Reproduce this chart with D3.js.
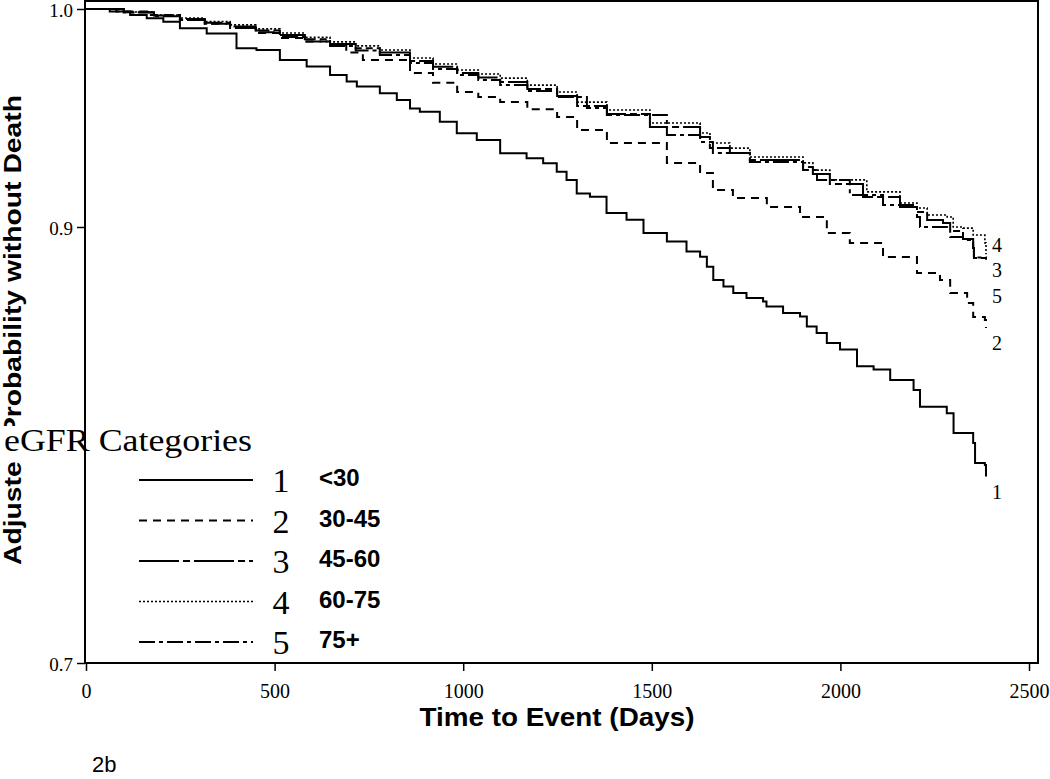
<!DOCTYPE html>
<html>
<head>
<meta charset="utf-8">
<script src="https://cdn.jsdelivr.net/npm/d3@7"></script>
<style>
  html, body { margin: 0; padding: 0; background: #fff; }
  svg { display: block; }
</style>
</head>
<body>
<svg id="chart" width="1050" height="779"></svg>
<script>
// ---------------- data ----------------
const xTicks = [0, 500, 1000, 1500, 2000, 2500];
const yTicks = [0.7, 0.8, 0.9, 1.0];

const days1 = [0,63,117,161,205,249,320,399,452,514,585,647,691,718,779,824,859,885,938,983,1036,1098,1168,1212,1248,1274,1301,1336,1380,1433,1478,1540,1592,1628,1646,1663,1690,1716,1751,1795,1804,1848,1893,1911,1937,1964,1999,2044,2088,2132,2194,2211,2282,2300,2352,2357,2383,2386];
const surv1 = [1.0,0.9988,0.9972,0.9958,0.9942,0.9912,0.9888,0.9820,0.9812,0.9766,0.9736,0.9697,0.9667,0.9644,0.9613,0.9583,0.9544,0.9529,0.9483,0.9430,0.9399,0.9338,0.9315,0.9292,0.9254,0.9216,0.9154,0.9139,0.9064,0.9033,0.8972,0.8934,0.8888,0.8864,0.8818,0.8757,0.8727,0.8697,0.8674,0.8658,0.8635,0.8605,0.8589,0.8544,0.8514,0.8468,0.8438,0.8361,0.8346,0.8298,0.8252,0.8176,0.8146,0.8055,0.8009,0.7917,0.7908,0.7855];

const days2 = [0,80,162,249,315,382,450,514,580,647,690,734,859,920,984,1040,1098,1170,1249,1302,1381,1540,1628,1662,1715,1805,1893,1964,2025,2113,2203,2264,2291,2336,2352,2383,2386];
const surv2 = [1.0,0.9988,0.9972,0.9950,0.9932,0.9913,0.9890,0.9867,0.9851,0.9835,0.9800,0.9766,0.9706,0.9662,0.9619,0.9596,0.9573,0.9540,0.9505,0.9445,0.9385,0.9294,0.9248,0.9170,0.9133,0.9092,0.9046,0.8972,0.8927,0.8862,0.8789,0.8757,0.8697,0.8651,0.8587,0.8573,0.8537];

const days3 = [0,100,180,249,315,382,450,514,580,647,715,779,859,920,984,1040,1098,1170,1249,1302,1381,1495,1628,1654,1707,1760,1901,1927,1972,2060,2158,2203,2230,2272,2291,2325,2352,2354,2386];
const surv3 = [1.0,0.9985,0.9970,0.9954,0.9937,0.9920,0.9901,0.9881,0.9861,0.9840,0.9820,0.9800,0.9762,0.9735,0.9706,0.9686,0.9665,0.9633,0.9601,0.9555,0.9518,0.9459,0.9413,0.9362,0.9339,0.9307,0.9275,0.9243,0.9197,0.9138,0.9092,0.9069,0.9032,0.9018,0.8982,0.8945,0.8904,0.8858,0.8858];

const days4 = [0,100,180,249,315,382,450,514,580,647,715,779,859,920,984,1040,1098,1170,1249,1302,1381,1495,1628,1654,1707,1760,1901,1927,1972,2070,2158,2203,2230,2283,2299,2325,2352,2383,2386];
const surv4 = [1.0,0.9986,0.9972,0.9959,0.9943,0.9927,0.9909,0.9890,0.9870,0.9849,0.9831,0.9812,0.9775,0.9748,0.9720,0.9702,0.9683,0.9651,0.9619,0.9573,0.9537,0.9477,0.9431,0.9385,0.9362,0.9321,0.9294,0.9261,0.9216,0.9161,0.9110,0.9087,0.9055,0.9046,0.9000,0.8995,0.8963,0.8927,0.8875];

const days5 = [0,100,180,249,315,382,450,514,580,647,715,779,859,920,984,1040,1098,1170,1249,1328,1381,1540,1628,1662,1760,1901,1938,2025,2113,2203,2211,2283,2291,2325,2352,2354,2386];
const surv5 = [1.0,0.9984,0.9967,0.9950,0.9932,0.9913,0.9893,0.9872,0.9851,0.9830,0.9810,0.9789,0.9752,0.9725,0.9697,0.9674,0.9651,0.9624,0.9596,0.9546,0.9514,0.9422,0.9390,0.9339,0.9298,0.9261,0.9216,0.9147,0.9101,0.9046,0.9000,0.8995,0.8954,0.8940,0.8904,0.8860,0.8850];

const legendNums = ["1", "2", "3", "4", "5"];
const legendLabels = ["<30", "30-45", "45-60", "60-75", "75+"];
const legendTitle = "eGFR Categories";

const endLabelNums = ["4", "3", "5", "2", "1"];
const endLabelVals = [0.8917, 0.8803, 0.8683, 0.8468, 0.7784];
const endLabelDay = 2415;

const xTitle = "Time to Event (Days)";
const yTitle = "Adjusted Probability without Death";
const panelLabel = "2b";

// ---------------- layout ----------------
const svg = d3.select("#chart");
const serif = "'Liberation Serif','Times New Roman',serif";
const sans = "'Liberation Sans',Arial,sans-serif";

const x = d3.scaleLinear().domain([0, 2500]).range([86, 1029]);
const y = d3.scaleLinear().domain([0.7, 1.0]).range([663, 9]);

const frame = {x0: 85, x1: 1038, y0: 1, y1: 663};

const seriesStyles = [
  {dash: null, w: 2},
  {dash: "8,6", w: 2},
  {dash: "40,4,7,4", w: 2},
  {dash: "2,2", w: 1.6},
  {dash: "16,4,4,4", w: 2}
];

const series = [
  {days: days1, surv: surv1},
  {days: days2, surv: surv2},
  {days: days3, surv: surv3},
  {days: days4, surv: surv4},
  {days: days5, surv: surv5}
];

// y axis
const yAxis = d3.axisLeft(y).tickValues(yTicks).tickFormat(d3.format(".1f")).tickSize(8).tickPadding(4);
const gy = svg.append("g").attr("transform", `translate(${frame.x0},0)`).call(yAxis);
gy.select(".domain").remove();
gy.selectAll("line").attr("stroke", "#000").attr("stroke-width", 1.5);
gy.selectAll("text").attr("font-family", serif).attr("font-size", 19).attr("fill", "#000")
  .attr("dy", "0.4em");

// x axis
const xAxis = d3.axisBottom(x).tickValues(xTicks).tickFormat(d3.format("d")).tickSize(8).tickPadding(13);
const gx = svg.append("g").attr("transform", `translate(0,${frame.y1})`).call(xAxis);
gx.select(".domain").remove();
gx.selectAll("line").attr("stroke", "#000").attr("stroke-width", 1.5);
gx.selectAll("text").attr("font-family", serif).attr("font-size", 20).attr("fill", "#000");

// axis titles
svg.append("text").attr("x", 557).attr("y", 726).attr("text-anchor", "middle")
  .attr("font-family", sans).attr("font-weight", "bold").attr("font-size", 25)
  .attr("textLength", 275).attr("lengthAdjust", "spacingAndGlyphs")
  .text(xTitle);

svg.append("text").attr("transform", "translate(21,330) rotate(-90)").attr("text-anchor", "middle")
  .attr("font-family", sans).attr("font-weight", "bold").attr("font-size", 23)
  .attr("textLength", 470).attr("lengthAdjust", "spacingAndGlyphs")
  .text(yTitle);

svg.append("text").attr("x", 92).attr("y", 772)
  .attr("font-family", sans).attr("font-size", 22)
  .text(panelLabel);

// legend title backing (pasted-on legend covers what lies beneath it, left of the frame)
svg.append("rect").attr("x", 0).attr("y", 426).attr("width", 84).attr("height", 36)
  .attr("fill", "#fff");

// frame
svg.append("rect")
  .attr("x", frame.x0).attr("y", frame.y0)
  .attr("width", frame.x1 - frame.x0).attr("height", frame.y1 - frame.y0)
  .attr("fill", "none").attr("stroke", "#000").attr("stroke-width", 2);

// curves
const line = d3.line().x(d => x(d[0])).y(d => y(d[1])).curve(d3.curveStepAfter);
series.forEach((s, i) => {
  const pts = s.days.map((d, k) => [d, s.surv[k]]);
  svg.append("path").datum(pts)
    .attr("d", line)
    .attr("fill", "none").attr("stroke", "#000")
    .attr("stroke-width", seriesStyles[i].w)
    .attr("stroke-dasharray", seriesStyles[i].dash);
});

// end labels
endLabelNums.forEach((n, i) => {
  svg.append("text").attr("x", x(endLabelDay)).attr("y", y(endLabelVals[i]))
    .attr("text-anchor", "middle").attr("dominant-baseline", "central")
    .attr("font-family", serif).attr("font-size", 20).text(n);
});

// legend
svg.append("text").attr("x", 4).attr("y", 451)
  .attr("font-family", serif).attr("font-size", 31)
  .attr("textLength", 248).attr("lengthAdjust", "spacingAndGlyphs")
  .text(legendTitle);

const legY0 = 480, legStep = 40.5;
legendNums.forEach((n, i) => {
  const yy = legY0 + i * legStep;
  svg.append("line").attr("x1", 139).attr("x2", 253).attr("y1", yy).attr("y2", yy)
    .attr("stroke", "#000").attr("stroke-width", seriesStyles[i].w)
    .attr("stroke-dasharray", seriesStyles[i].dash);
  svg.append("text").attr("x", 281).attr("y", yy + 12).attr("text-anchor", "middle")
    .attr("font-family", serif).attr("font-size", 34).text(n);
  svg.append("text").attr("x", 319).attr("y", yy + 6)
    .attr("font-family", sans).attr("font-weight", "bold").attr("font-size", 24)
    .text(legendLabels[i]);
});
</script>
</body>
</html>
